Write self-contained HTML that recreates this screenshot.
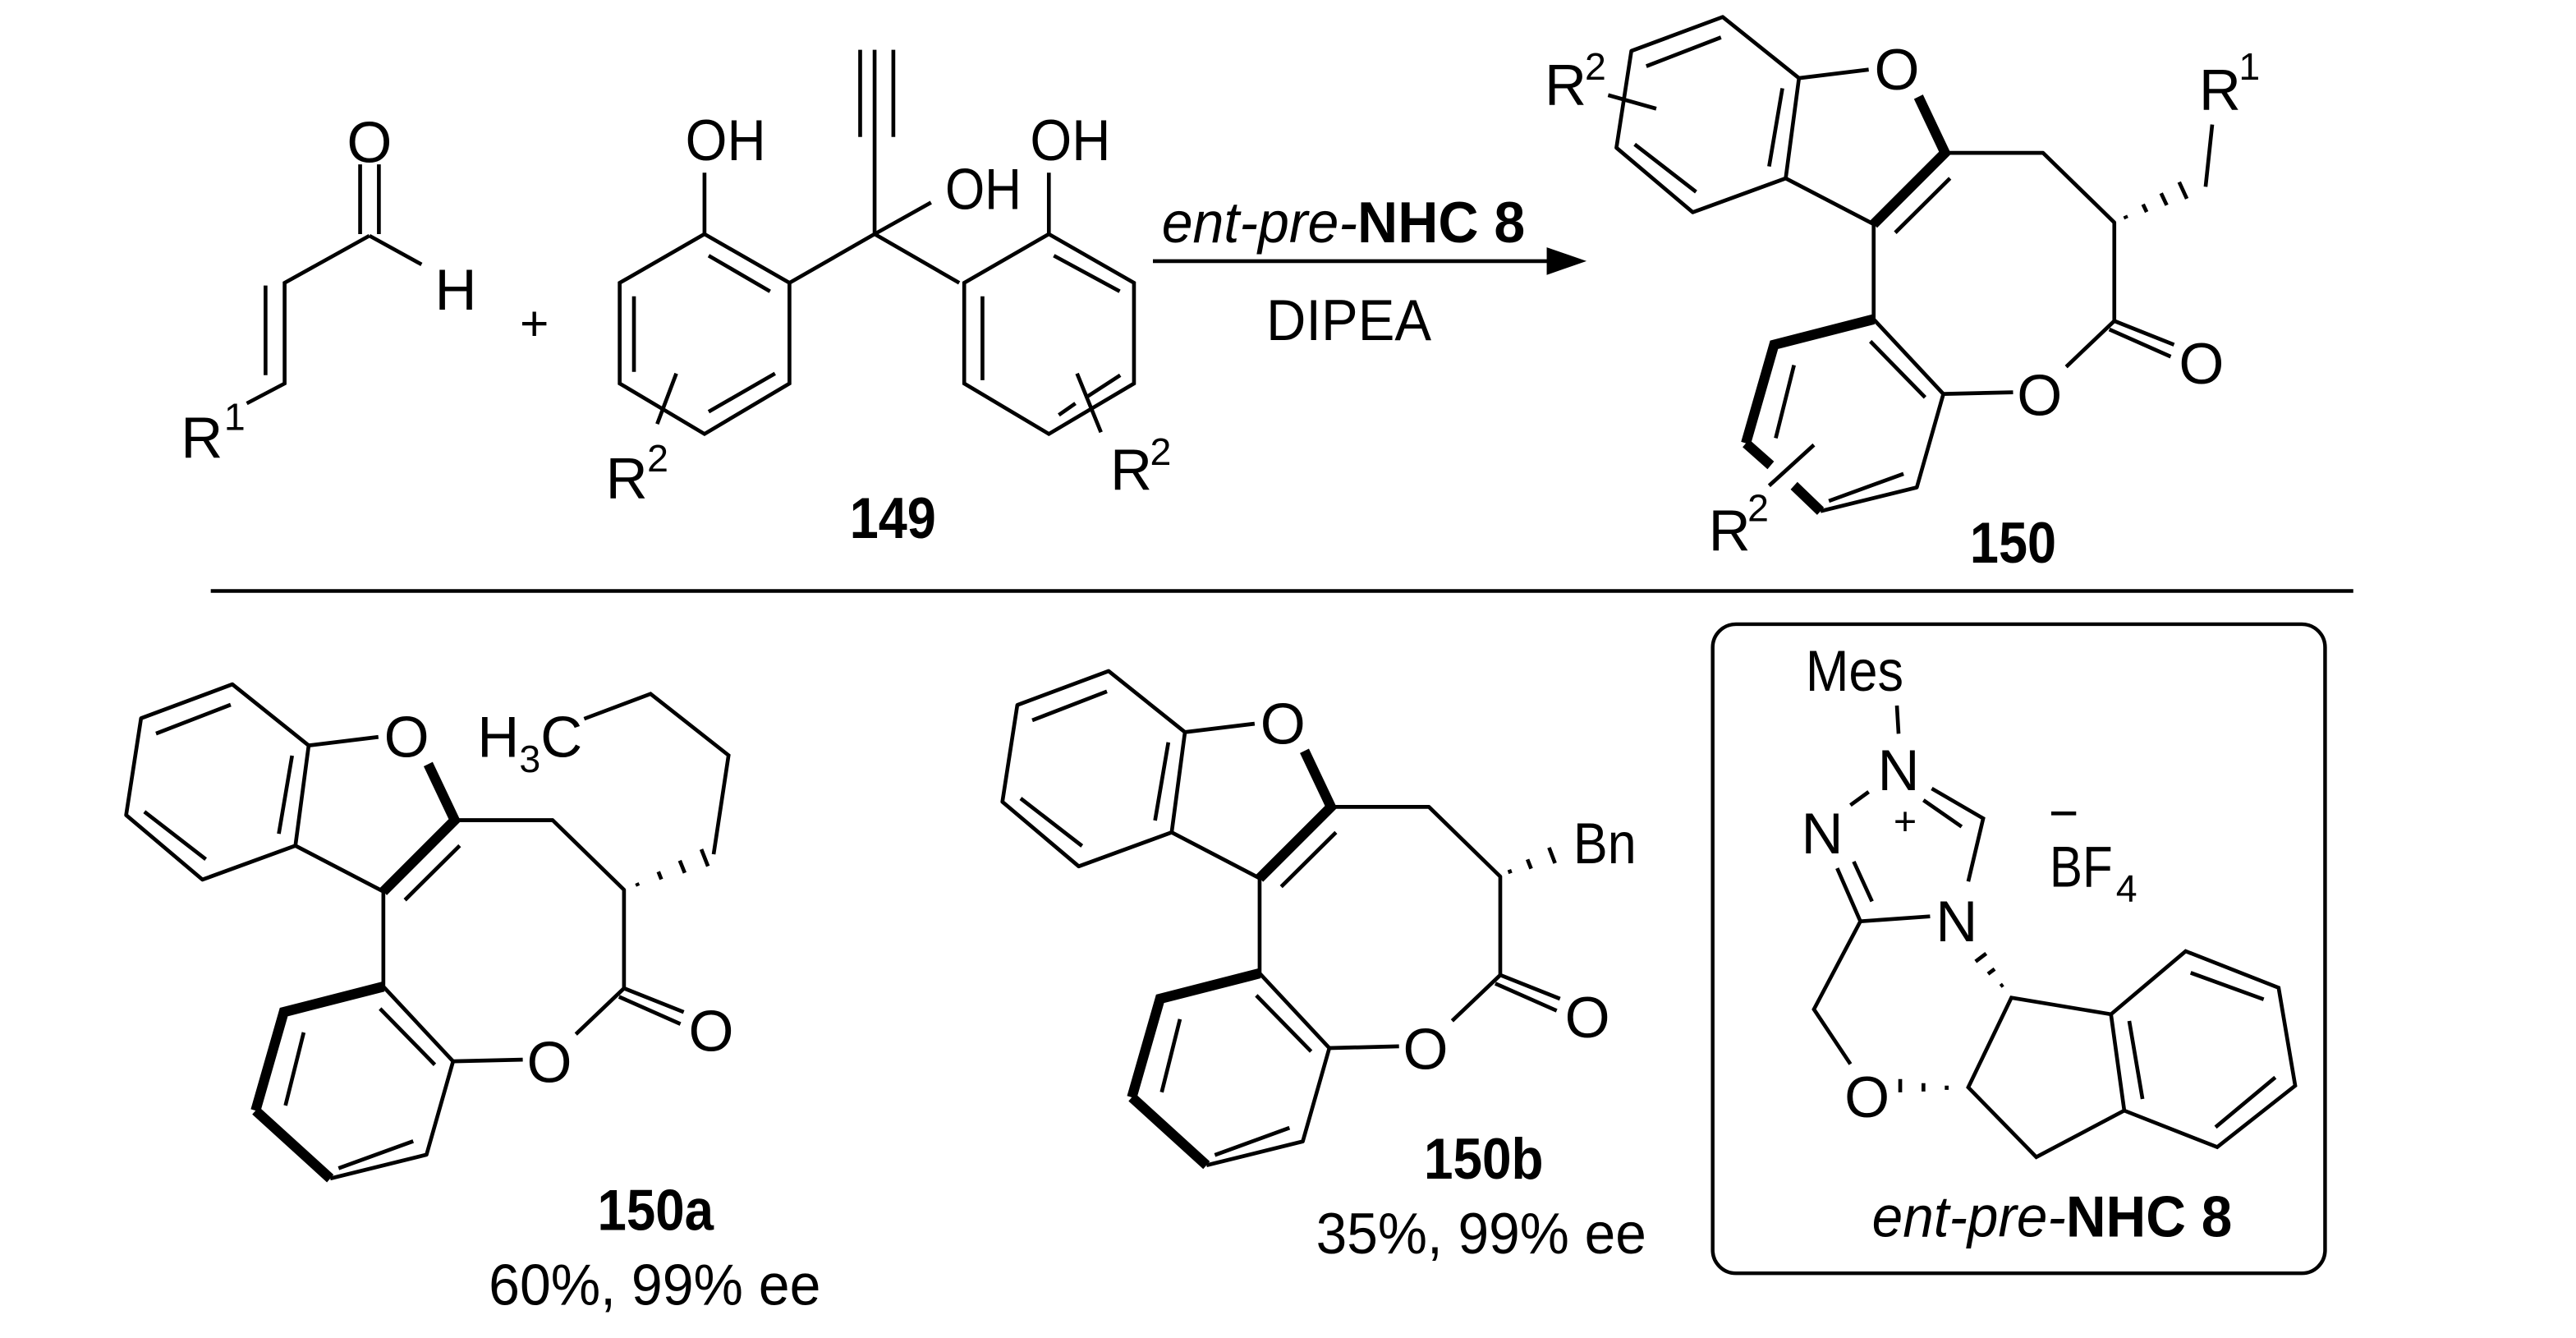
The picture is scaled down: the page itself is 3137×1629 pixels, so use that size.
<!DOCTYPE html>
<html><head><meta charset="utf-8"><style>
html,body{margin:0;padding:0;background:#fff;}
svg{display:block;}
text{font-family:"Liberation Sans",Arial,sans-serif;fill:#000;}
</style></head><body>
<svg width="3137" height="1629" viewBox="0 0 1552.2 806" preserveAspectRatio="none" xmlns="http://www.w3.org/2000/svg">
<defs>
<g id="core">
 <g fill="none" stroke="#000" stroke-width="2.3" stroke-linejoin="round">
  <path d="M1038,10 L983,30 L974,87 L1020,125 L1076,105 L1084,46 Z"/>
  <path d="M992,39 L1037,22 M985,85 L1022,113 M1066,98 L1074,52"/>
  <path d="M1084,46 L1126,41 M1129,132 L1076,105 M1175,105 L1142,137"/>
  <path d="M1172,90 L1231,90 L1274,131 L1274,189"/>
  <path d="M1274,189 L1310,203 M1271,194 L1308,210 M1274,189 L1245,216 M1213,231 L1171,232"/>
  <path d="M1129,132 L1129,188 M1129,188 L1171,232 L1155,287 L1097,301"/>
  <path d="M1127,201 L1160,234 M1102,295 L1147,279 M1081,215 L1070,258"/>
 </g>
 <g fill="none" stroke="#000" stroke-width="6" stroke-linejoin="miter">
  <path d="M1156,57 L1172,90 L1129,132"/>
  <path d="M1129,188 L1069,203 L1052,261"/>
 </g>
</g>
</defs>

<!-- Acrolein -->
<g fill="none" stroke="#000" stroke-width="2.3">
 <path d="M217,99 L217,141 M228.3,99 L228.3,141"/>
 <path d="M222.6,142 L254,159.3 M222.6,142 L171.5,170.4 L171.5,231 L148.7,243 M160,172 L160,226"/>
</g>
<text x="222.6" y="97.6" font-size="35" text-anchor="middle">O</text>
<text x="262" y="186.6" font-size="35">H</text>
<text x="109" y="275.6" font-size="35">R</text>
<text x="135" y="259" font-size="23">1</text>
<text x="322" y="205" font-size="30" text-anchor="middle">+</text>

<!-- 149 -->
<g fill="none" stroke="#000" stroke-width="2.3">
 <path d="M424.5,141 L475.7,170.4 L475.7,231 L424.5,261.4 L373.4,231 L373.4,170.4 Z"/>
 <path d="M427,154 L464,175.5 M382,178.5 L382,224 M427,248 L467,225"/>
 <path d="M424.5,104 L424.5,141 M407.5,225 L396,255.4"/>
 <path d="M475.7,170.4 L527,141 L578,170.4 M527,141 L561,122"/>
 <path d="M518.3,30 L518.3,82.5 M538.3,30 L538.3,82.5 M527,30 L527,141"/>
 <path d="M632,141 L683.3,170.4 L683.3,231 L632,261.4 L581,231 L581,170.4 Z"/>
 <path d="M635,154 L674.7,175.5 M592,178.5 L592,229 M638,250 L648,243 M655,239 L675,226"/>
 <path d="M632,104 L632,141 M649,225 L663.4,260.4"/>
</g>
<text x="413" y="96.6" font-size="35" textLength="48.5" lengthAdjust="spacingAndGlyphs">OH</text>
<text x="620.7" y="96.6" font-size="35" textLength="48.5" lengthAdjust="spacingAndGlyphs">OH</text>
<text x="569.5" y="126" font-size="35" textLength="46" lengthAdjust="spacingAndGlyphs">OH</text>
<text x="365" y="300" font-size="35">R</text>
<text x="390" y="284" font-size="23">2</text>
<text x="669" y="295" font-size="35">R</text>
<text x="693" y="280" font-size="23">2</text>
<text x="512" y="324" font-size="35" font-weight="bold" textLength="52" lengthAdjust="spacingAndGlyphs">149</text>

<!-- Arrow -->
<path d="M694.7,157.3 L935,157.3" stroke="#000" stroke-width="2.3"/>
<path d="M956,157.3 L932,149 L932,165.6 Z" fill="#000"/>
<text x="700" y="146" font-size="35" textLength="219" lengthAdjust="spacingAndGlyphs"><tspan font-style="italic">ent-pre-</tspan><tspan font-weight="bold">NHC 8</tspan></text>
<text x="763" y="204.8" font-size="35" textLength="99.5" lengthAdjust="spacingAndGlyphs">DIPEA</text>

<!-- 150 -->
<g transform="scale(1,1.023)">
 <use href="#core"/>
 <g fill="none" stroke="#000" stroke-width="6">
  <path d="M1052,261 L1067,274 M1081,286 L1097,301"/>
 </g>
 <path d="M1066,286 L1093,262 M969,56 L998,64" stroke="#000" stroke-width="2.3" fill="none"/>
</g>
<g stroke="#000" fill="none">
 <path d="M1280.5,129.9 L1281.3,131.7" stroke-width="2.5"/>
 <path d="M1291.3,123.1 L1293.5,127.7 M1302.2,116.4 L1305.6,123.6 M1313.1,109.7 L1317.7,119.7" stroke-width="2.3"/>
 <path d="M1329,112.5 L1333,75" stroke-width="2.3"/>
</g>
<text x="1143" y="54" font-size="35" text-anchor="middle">O</text>
<text x="1229" y="250" font-size="35" text-anchor="middle">O</text>
<text x="1326.5" y="231" font-size="35" text-anchor="middle">O</text>
<text x="1325" y="66" font-size="35">R</text>
<text x="1349" y="48" font-size="23">1</text>
<text x="930.7" y="63" font-size="35">R</text>
<text x="955" y="48" font-size="23">2</text>
<text x="1029.5" y="331.5" font-size="35">R</text>
<text x="1053" y="314" font-size="23">2</text>
<text x="1187" y="339" font-size="35" font-weight="bold" textLength="52" lengthAdjust="spacingAndGlyphs">150</text>

<!-- rule -->
<path d="M127,356 L1418,356" stroke="#000" stroke-width="2.2"/>

<!-- 150a -->
<g transform="translate(-898,402) scale(1,1.023)">
 <use href="#core"/>
 <path d="M1052,261 L1097,301" stroke="#000" stroke-width="6" fill="none"/>
</g>
<g stroke="#000" fill="none" stroke-width="2.3">
 <path d="M383.7,531.9 L384.5,533.7 M396.7,525.1 L398.5,529.7 M409.6,518.4 L412.6,525.8 M422.6,511.6 L426.6,521.8"/>
 <path d="M430,514.6 L439,455 L392,418 L352,433"/>
</g>
<text x="245" y="456" font-size="35" text-anchor="middle">O</text>
<text x="331" y="652" font-size="35" text-anchor="middle">O</text>
<text x="428.5" y="633" font-size="35" text-anchor="middle">O</text>
<text x="287.6" y="456" font-size="35">H<tspan font-size="23" dy="9">3</tspan><tspan dy="-9">C</tspan></text>
<text x="360" y="741" font-size="35" font-weight="bold" textLength="70" lengthAdjust="spacingAndGlyphs">150a</text>
<text x="294.5" y="786" font-size="35" textLength="200" lengthAdjust="spacingAndGlyphs">60%, 99% ee</text>

<!-- 150b -->
<g transform="translate(-370,394) scale(1,1.023)">
 <use href="#core"/>
 <path d="M1052,261 L1097,301" stroke="#000" stroke-width="6" fill="none"/>
</g>
<g stroke="#000" fill="none" stroke-width="2.3">
 <path d="M909.4,523.9 L910.2,526.1 M920.4,517.7 L922.6,523.3 M933.4,510.6 L937,520"/>
</g>
<text x="773" y="448" font-size="35" text-anchor="middle">O</text>
<text x="859" y="644" font-size="35" text-anchor="middle">O</text>
<text x="956.5" y="625" font-size="35" text-anchor="middle">O</text>
<text x="948" y="520" font-size="35" textLength="38" lengthAdjust="spacingAndGlyphs">Bn</text>
<text x="858" y="710" font-size="35" font-weight="bold" textLength="72" lengthAdjust="spacingAndGlyphs">150b</text>
<text x="793" y="755" font-size="35" textLength="199" lengthAdjust="spacingAndGlyphs">35%, 99% ee</text>

<!-- NHC box -->
<rect x="1032" y="376" width="369" height="391" rx="14" ry="14" fill="none" stroke="#000" stroke-width="2.2"/>
<g fill="none" stroke="#000" stroke-width="2.3">
 <path d="M1143,425 L1144,442 M1126,477 L1115,485"/>
 <path d="M1164,475 L1195,493 L1186,531 M1159,482 L1182,498"/>
 <path d="M1163,552 L1121,555 L1107,523 M1128,543 L1117,519"/>
 <path d="M1121,555 L1093,608 L1115,641"/>
 <path d="M1212,601 L1186,655 L1227,697 L1280,669 L1272,611 Z"/>
 <path d="M1272,611 L1317,573 L1373,595 L1383,654 L1336,691 L1280,669"/>
 <path d="M1283,615 L1291,662 M1320,586 L1364,602 M1335,679 L1371,649"/>
 <path d="M1205.4,594.2 L1207,593 M1197.9,586.7 L1201.9,583.7 M1190.4,579.2 L1196.8,574.4"/>
 <path d="M1145,650 L1145,658 M1159,652.5 L1159,657.5 M1173,654 L1173,656.5"/>
 <path d="M1236,490 L1251,490"/>
</g>
<text x="1088" y="416" font-size="35" textLength="59" lengthAdjust="spacingAndGlyphs">Mes</text>
<text x="1144" y="476" font-size="35" text-anchor="middle">N</text>
<text x="1098" y="514" font-size="35" text-anchor="middle">N</text>
<text x="1148" y="503" font-size="24" text-anchor="middle">+</text>
<text x="1179" y="567" font-size="35" text-anchor="middle">N</text>
<text x="1125" y="673" font-size="35" text-anchor="middle">O</text>
<text x="1235" y="534" font-size="35" textLength="38" lengthAdjust="spacingAndGlyphs">BF</text>
<text x="1275" y="543" font-size="23">4</text>
<text x="1128" y="745" font-size="35" textLength="217" lengthAdjust="spacingAndGlyphs"><tspan font-style="italic">ent-pre-</tspan><tspan font-weight="bold">NHC 8</tspan></text>
</svg>
</body></html>
